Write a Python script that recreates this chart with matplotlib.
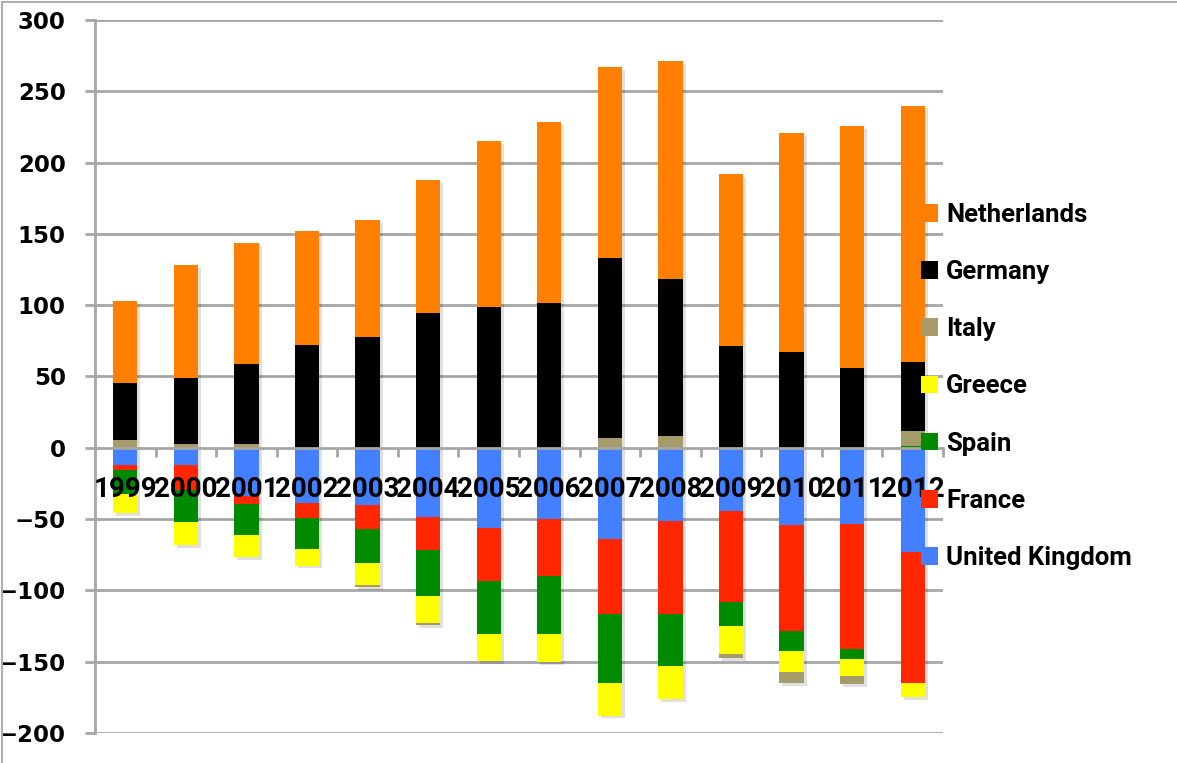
import matplotlib.pyplot as plt
import numpy as np
from matplotlib.patches import Patch
from matplotlib.lines import Line2D

years = ['1999', '2000', '2001', '2002', '2003', '2004', '2005', '2006',
         '2007', '2008', '2009', '2010', '2011', '2012']

# values (series in stacking order)
uk = [-12.0, -12.0, -34.0, -38.9, -40.1, -48.3, -56.1, -49.7, -63.8, -51.6, -44.4, -54.0, -53.5, -73.2]
france = [-3.9, -17.3, -5.6, -10.6, -16.9, -23.7, -37.6, -40.2, -52.8, -65.0, -63.6, -74.6, -87.6, -91.6]
spain = [-16.5, -23.0, -21.6, -21.4, -24.0, -31.7, -36.6, -40.4, -48.0, -36.5, -17.1, -14.1, -6.8, 1.5]
greece = [-13.1, -15.7, -15.3, -11.7, -15.2, -19.5, -19.2, -19.9, -23.2, -23.0, -19.7, -14.8, -12.2, -10.3]
italy = [5.2, 2.4, 2.8, 0.0, -1.2, -1.0, 0.0, 0.0, 6.6, 8.2, -2.6, -7.5, -5.4, 10.2]
germany = [40.4, 46.2, 55.9, 71.8, 77.7, 94.2, 98.9, 101.2, 126.3, 109.9, 71.6, 67.4, 55.9, 48.7]
netherlands = [57.2, 79.4, 84.7, 79.9, 81.9, 93.4, 116.4, 127.5, 134.0, 152.8, 120.4, 153.5, 169.9, 179.6]

series = [('United Kingdom', uk, '#4280FF'),
          ('France', france, '#FF2600'),
          ('Spain', spain, '#008A00'),
          ('Greece', greece, '#FFFF00'),
          ('Italy', italy, '#A69C6B'),
          ('Germany', germany, '#000000'),
          ('Netherlands', netherlands, '#FF7F00')]

W, H = 1177, 763
fig = plt.figure(figsize=(W / 100, H / 100), dpi=100)
ax = fig.add_axes([95 / W, 30 / H, (943 - 95) / W, (733 - 20) / H])

x = np.arange(len(years))
width = 0.4
grid_col = '#a6a6a6'

# gridlines under the bars
for v in range(-200, 301, 50):
    if v != 0:
        ax.axhline(v, color=grid_col, lw=2, zorder=0.5)

# soft shadow behind each stack
vals = np.array([s[1] for s in series])
top = np.where(vals > 0, vals, 0).sum(axis=0)
bot = np.where(vals < 0, vals, 0).sum(axis=0)
ax.bar(x + 0.05, top - bot, width, bottom=bot - 2.0, color='#000000',
       alpha=0.12, zorder=0.8, linewidth=0)

pos = np.zeros(len(years))
neg = np.zeros(len(years))
for name, v, c in series:
    v = np.array(v)
    b = np.where(v >= 0, pos, neg)
    ax.bar(x, v, width, bottom=b, color=c, linewidth=0, zorder=2)
    pos += np.where(v > 0, v, 0)
    neg += np.where(v < 0, v, 0)

ax.set_xlim(-0.5, len(years) - 0.5)
ax.set_ylim(-200, 300)
ax.set_yticks(range(-200, 301, 50))

for s in ['top', 'right']:
    ax.spines[s].set_visible(False)
ax.spines['left'].set_color(grid_col)
ax.spines['left'].set_linewidth(2)
ax.spines['bottom'].set_position(('data', 0))
ax.spines['bottom'].set_color(grid_col)
ax.spines['bottom'].set_linewidth(2)
ax.spines['bottom'].set_zorder(3)

ax.tick_params(axis='y', length=7, width=2, color=grid_col, pad=14,
               labelsize=16.5)
for t in ax.get_yticklabels():
    t.set_fontweight('bold')
    t.set_fontfamily('DejaVu Sans')

ax.set_xticks(x)
ax.set_xticklabels(years, fontsize=20, fontweight='bold', family='Roboto')
ax.set_xticks(np.arange(0.5, len(years), 1), minor=True)
ax.tick_params(axis='x', which='major', length=0, pad=20.5)
ax.tick_params(axis='x', which='minor', length=6.5, width=2, color=grid_col)
ax.xaxis.set_zorder(5)

handles = [Patch(facecolor=c, edgecolor='none') for _, _, c in series][::-1]
labels = [n for n, _, _ in series][::-1]
leg = fig.legend(handles, labels, loc='upper left',
                 bbox_to_anchor=(921 / W, 1 - 203 / H), frameon=False,
                 prop={'family': 'Roboto', 'weight': 'bold', 'size': 18.5},
                 handlelength=0.68, handleheight=0.68, handletextpad=0.3,
                 labelspacing=1.29, borderpad=0, borderaxespad=0)

# thin frame on the left and top edges
fig.add_artist(Line2D([2 / W, 2 / W], [0, 1 - 2 / H], color='#b0b0b0', lw=1.5))
fig.add_artist(Line2D([2 / W, 1], [1 - 2 / H, 1 - 2 / H], color='#b0b0b0', lw=1.5))

fig.savefig('out.png', dpi=100)
